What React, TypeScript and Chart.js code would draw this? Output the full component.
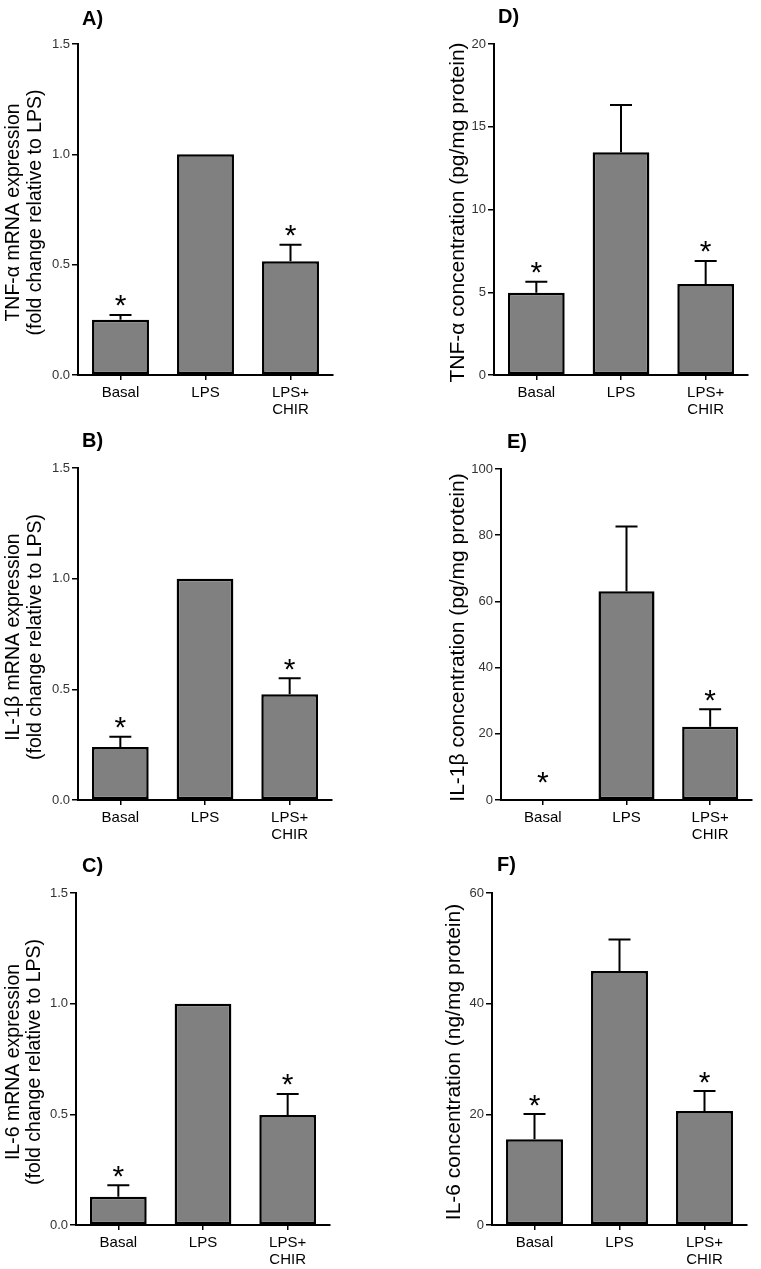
import React, { useEffect, useRef } from "react";
import { Chart, registerables } from "chart.js";

Chart.register(...registerables);

// ---------- data ----------
const categories: (string | string[])[] = ["Basal", "LPS", ["LPS+", "CHIR"]];

const tnfMrnaMean = [0.25, 1.0, 0.515];
const tnfMrnaSem = [0.022, 0, 0.075];
const il1bMrnaMean = [0.24, 1.0, 0.478];
const il1bMrnaSem = [0.046, 0, 0.072];
const il6MrnaMean = [0.128, 1.0, 0.497];
const il6MrnaSem = [0.052, 0, 0.095];

const tnfProtMean = [4.97, 13.46, 5.5];
const tnfProtSem = [0.67, 2.85, 1.39];
const il1bProtMean = [0, 63.1, 22.1];
const il1bProtSem = [0, 19.5, 5.3];
const il6ProtMean = [15.5, 45.9, 20.6];
const il6ProtSem = [4.56, 5.7, 3.6];

const significant = [true, false, true];

const mrnaTicks = [0, 0.5, 1.0, 1.5];
const tnfProtTicks = [0, 5, 10, 15, 20];
const il1bProtTicks = [0, 20, 40, 60, 80, 100];
const il6ProtTicks = [0, 20, 40, 60];

const panelLetters = ["A)", "B)", "C)", "D)", "E)", "F)"];
const yTitles: (string | string[])[] = [
  ["TNF-α mRNA expression", "(fold change relative to LPS)"],
  ["IL-1β mRNA expression", "(fold change relative to LPS)"],
  ["IL-6 mRNA expression", "(fold change relative to LPS)"],
  "TNF-α concentration (pg/mg protein)",
  "IL-1β concentration (pg/mg protein)",
  "IL-6 concentration (ng/mg protein)",
];

// ---------- layout / style ----------
const FONT = "'Liberation Sans', Arial, Helvetica, sans-serif";

type PanelCfg = {
  x: number; y: number; w: number; h: number;
  area: { l: number; r: number; t: number; b: number };
  letter: string; letterX: number; letterY: number;
  title: string | string[]; titleX: number[]; titleSize: number;
  ticks: number[]; decimals: number;
  mean: number[]; sem: number[];
};

const panels: PanelCfg[] = [
  { x: 0, y: 0, w: 380, h: 420, area: { l: 78, r: 333, t: 44, b: 375 }, letter: panelLetters[0], letterX: 82, letterY: 25,
    title: yTitles[0], titleX: [14, 36], titleSize: 19.5, ticks: mrnaTicks, decimals: 1, mean: tnfMrnaMean, sem: tnfMrnaSem },
  { x: 0, y: 420, w: 380, h: 420, area: { l: 78, r: 332, t: 48, b: 380 }, letter: panelLetters[1], letterX: 82, letterY: 27,
    title: yTitles[1], titleX: [14, 36], titleSize: 19.5, ticks: mrnaTicks, decimals: 1, mean: il1bMrnaMean, sem: il1bMrnaSem },
  { x: 0, y: 840, w: 380, h: 429, area: { l: 76, r: 330, t: 53, b: 385 }, letter: panelLetters[2], letterX: 82, letterY: 32,
    title: yTitles[2], titleX: [14, 35], titleSize: 19.5, ticks: mrnaTicks, decimals: 1, mean: il6MrnaMean, sem: il6MrnaSem },
  { x: 380, y: 0, w: 381, h: 420, area: { l: 114, r: 368, t: 44, b: 375 }, letter: panelLetters[3], letterX: 118, letterY: 23,
    title: yTitles[3], titleX: [78], titleSize: 21, ticks: tnfProtTicks, decimals: 0, mean: tnfProtMean, sem: tnfProtSem },
  { x: 380, y: 420, w: 381, h: 420, area: { l: 121, r: 372, t: 49, b: 380 }, letter: panelLetters[4], letterX: 127, letterY: 28,
    title: yTitles[4], titleX: [78], titleSize: 21, ticks: il1bProtTicks, decimals: 0, mean: il1bProtMean, sem: il1bProtSem },
  { x: 380, y: 840, w: 381, h: 429, area: { l: 112, r: 367, t: 53, b: 385 }, letter: panelLetters[5], letterX: 117, letterY: 31,
    title: yTitles[5], titleX: [74], titleSize: 21, ticks: il6ProtTicks, decimals: 0, mean: il6ProtMean, sem: il6ProtSem },
];

function Panel({ cfg }: { cfg: PanelCfg }) {
  const ref = useRef<HTMLCanvasElement>(null);

  useEffect(() => {
    const canvas = ref.current;
    if (!canvas) return;
    const { area } = cfg;

    const overlay = {
      id: "overlay" + cfg.letter,
      afterDatasetsDraw(chart: any) {
        const ctx = chart.ctx as CanvasRenderingContext2D;
        const yScale = chart.scales.y;
        const meta = chart.getDatasetMeta(0);
        const base = yScale.getPixelForValue(0);
        ctx.save();
        meta.data.forEach((bar: any, i: number) => {
          const m = cfg.mean[i];
          const s = cfg.sem[i];
          const capY = yScale.getPixelForValue(m + s);
          const bx = bar.x;
          if (s > 0) {
            ctx.strokeStyle = "#000";
            ctx.lineWidth = 2;
            ctx.beginPath();
            ctx.moveTo(bx, bar.y);
            ctx.lineTo(bx, capY);
            ctx.moveTo(bx - 11, capY);
            ctx.lineTo(bx + 11, capY);
            ctx.stroke();
          }
          if (significant[i]) {
            ctx.fillStyle = "#000";
            ctx.font = `30px ${FONT}`;
            ctx.textAlign = "center";
            ctx.textBaseline = "alphabetic";
            const mt = ctx.measureText("*");
            const centerY = Math.min(capY - 14, base - 23);
            const asc = mt.actualBoundingBoxAscent;
            const desc = mt.actualBoundingBoxDescent;
            const baseline = centerY - (desc - asc) / 2;
            ctx.fillText("*", bx, baseline);
          }
        });
        ctx.restore();
      },
      afterDraw(chart: any) {
        const ctx = chart.ctx as CanvasRenderingContext2D;
        const ca = chart.chartArea;
        ctx.save();
        // panel letter
        ctx.fillStyle = "#000";
        ctx.font = `bold 20px ${FONT}`;
        ctx.textAlign = "left";
        ctx.textBaseline = "alphabetic";
        ctx.fillText(cfg.letter, cfg.letterX, cfg.letterY);
        // y-axis title
        const lines = Array.isArray(cfg.title) ? cfg.title : [cfg.title];
        const cy = (ca.top + ca.bottom) / 2 + 3;
        ctx.font = `${cfg.titleSize}px ${FONT}`;
        ctx.textAlign = "center";
        ctx.textBaseline = "middle";
        lines.forEach((line, k) => {
          ctx.save();
          ctx.translate(cfg.titleX[k], cy);
          ctx.rotate(-Math.PI / 2);
          ctx.fillText(line, 0, 0);
          ctx.restore();
        });
        ctx.restore();
      },
    };

    const chart = new Chart(canvas, {
      type: "bar",
      data: {
        labels: categories as any,
        datasets: [
          {
            data: cfg.mean,
            backgroundColor: "#808080",
            borderColor: "#000",
            borderWidth: 2.5,
            borderSkipped: false,
            barPercentage: 0.67,
            categoryPercentage: 1,
          },
        ],
      },
      options: {
        responsive: false,
        animation: false,
        events: [],
        layout: {
          padding: { left: 0, top: area.t, right: cfg.w - area.r, bottom: 0 },
        },
        plugins: {
          legend: { display: false },
          tooltip: { enabled: false },
          title: { display: false },
        },
        scales: {
          x: {
            type: "category",
            offset: true,
            grid: {
              display: true,
              drawOnChartArea: false,
              drawTicks: true,
              tickLength: 5,
              color: "#000",
              lineWidth: 1.5,
              offset: false,
            },
            border: { display: true, color: "#000", width: 2 },
            ticks: {
              color: "#000",
              font: { family: FONT, size: 15, lineHeight: 1.15 },
              padding: 4,
              maxRotation: 0,
              autoSkip: false,
            },
            afterFit: (s: any) => {
              s.height = cfg.h - area.b;
            },
          },
          y: {
            min: 0,
            max: cfg.ticks[cfg.ticks.length - 1],
            afterBuildTicks: (s: any) => {
              s.ticks = cfg.ticks.map((v) => ({ value: v }));
            },
            grid: {
              display: true,
              drawOnChartArea: false,
              drawTicks: true,
              tickLength: 6,
              color: "#000",
              lineWidth: 1.5,
            },
            border: { display: true, color: "#000", width: 2 },
            ticks: {
              color: "#333",
              font: { family: FONT, size: 13 },
              padding: 2,
              callback: (v: any) => Number(v).toFixed(cfg.decimals),
            },
            afterFit: (s: any) => {
              s.width = area.l;
            },
          },
        },
      },
      plugins: [overlay],
    } as any);

    return () => chart.destroy();
  }, [cfg]);

  return (
    <canvas
      ref={ref}
      width={cfg.w}
      height={cfg.h}
      style={{ position: "absolute", left: cfg.x, top: cfg.y, display: "block" }}
    />
  );
}

export default function App() {
  return (
    <div
      style={{
        position: "absolute",
        left: 0,
        top: 0,
        width: 761,
        height: 1269,
        background: "#fff",
        overflow: "hidden",
      }}
    >
      {panels.map((p) => (
        <Panel key={p.letter} cfg={p} />
      ))}
    </div>
  );
}
